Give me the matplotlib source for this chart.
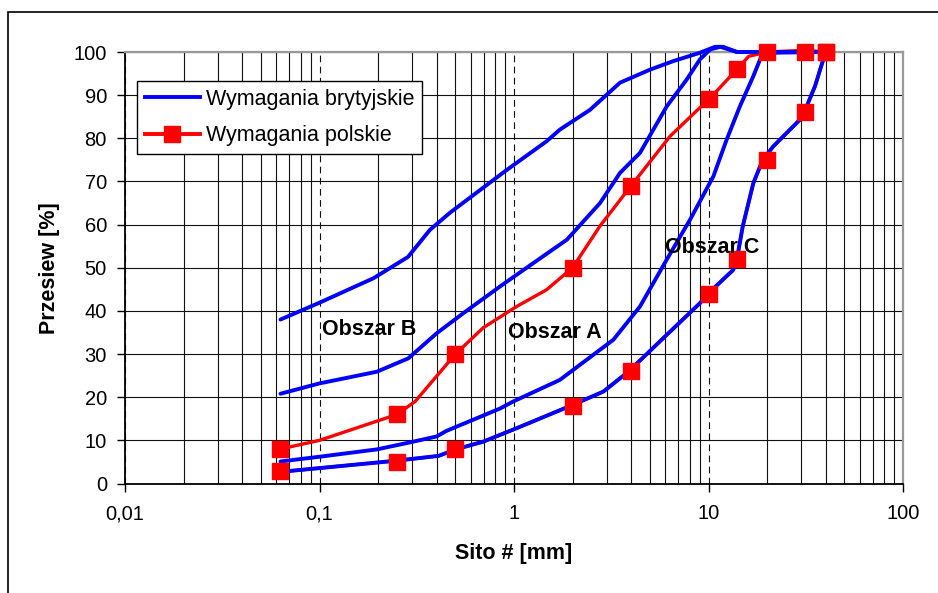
import matplotlib
matplotlib.use("Agg")
import matplotlib.pyplot as plt
from matplotlib.lines import Line2D
from matplotlib.patches import Rectangle
from matplotlib.ticker import LogLocator, NullFormatter

plt.rcParams['font.family'] = ['Liberation Sans', 'DejaVu Sans']

# Wymagania brytyjskie - granice obszarow
b1_x = [0.063, 0.1, 0.19, 0.285, 0.37, 0.47, 0.92, 1.47, 1.72, 2.46, 3.51, 5.0, 6.6, 9.0, 10.8, 11.9, 14, 20, 40]
b1_y = [38, 41.9, 47.6, 52.5, 58.8, 62.8, 72.7, 79.3, 82, 86.6, 92.9, 95.9, 97.9, 99.8, 101.2, 101.2, 100, 100, 100]

b2_x = [0.063, 0.1, 0.197, 0.286, 0.40, 0.55, 0.85, 1.12, 1.87, 2.77, 3.51, 4.44, 6.1, 7.72, 9.04, 10.2, 11.5, 14, 20, 40]
b2_y = [20.8, 23.2, 25.9, 29.0, 34.8, 39.5, 45.7, 49.5, 56.5, 65.0, 72.0, 76.6, 87.4, 93.6, 98.3, 100.6, 101.2, 100, 100, 100]

b3_x = [0.063, 0.1, 0.197, 0.29, 0.40, 0.45, 0.85, 0.99, 1.72, 3.24, 4.44, 6.1, 8.03, 10.6, 12.4, 14.5, 17.0, 19.0, 40]
b3_y = [5.1, 6.2, 7.9, 9.5, 10.9, 12.2, 17.4, 19.0, 24.0, 33.3, 41.0, 51.9, 61.1, 71.2, 79.7, 87.4, 94.4, 99.8, 100]

b4_x = [0.063, 0.25, 0.41, 0.5, 0.695, 1.03, 2.0, 2.88, 3.87, 5.86, 9.04, 10.0, 13.4, 14.0, 15.0, 17.0, 19.0, 21.5, 29.5, 31.5, 35.3, 40]
b4_y = [2.7, 5.3, 6.4, 7.9, 9.7, 12.8, 18.2, 21.3, 25.9, 33.7, 41.8, 44.1, 49.5, 52, 59.6, 69.6, 75, 78.1, 84.3, 86.7, 92.1, 100]

# Wymagania polskie - sita i granice
sita = [0.063, 0.25, 0.5, 2, 4, 10, 14, 20, 31.5, 40]
pl_gorna = [8, 16, 30, 50, 69, 89, 96, 100, 100, 100]
pl_dolna = [3, 5, 8, 18, 26, 44, 52, 75, 86, 100]

# przebieg czerwonej linii gornej (odczytany)
pl_linia_x = [0.063, 0.1, 0.25, 0.31, 0.5, 0.695, 1.03, 1.47, 2, 2.76, 4, 6.35, 10, 11, 14, 16.1, 20, 31.5, 40]
pl_linia_y = [8, 10, 16, 19, 30, 36.1, 41, 44.9, 50, 59.6, 69, 80.5, 89, 90.9, 96, 99, 100, 100.4, 100]

x_ticks = [0.01, 0.1, 1, 10, 100]
x_labels = ["0,01", "0,1", "1", "10", "100"]
y_ticks = list(range(0, 101, 10))

obszary = [("Obszar B", 0.103, 34.5), ("Obszar A", 0.93, 33.7), ("Obszar C", 5.97, 53.5)]

BLUE = "#0000ff"
RED = "#ff0000"

fig = plt.figure(figsize=(9.38, 5.93), dpi=100)
ax = fig.add_axes([125 / 938, 1 - 483.5 / 593, 778 / 938, 431.5 / 593])

ax.set_xscale("log")
ax.set_xlim(0.01, 100)
ax.set_ylim(0, 100)

# siatka
ax.xaxis.set_minor_locator(LogLocator(base=10, subs=range(2, 10)))
ax.xaxis.set_minor_formatter(NullFormatter())
ax.grid(which="minor", axis="x", color="#111111", lw=0.8)
ax.grid(which="major", axis="x", color="#111111", lw=0.8, ls=(0, (6, 4)))
ax.grid(which="major", axis="y", color="#111111", lw=0.8)
ax.set_axisbelow(True)

# linie
ax.plot(b4_x, b4_y, color=RED, lw=2.4, zorder=3)
ax.plot(pl_linia_x, pl_linia_y, color=RED, lw=2.4, zorder=3, clip_on=False)
for bx, by in [(b1_x, b1_y), (b2_x, b2_y), (b3_x, b3_y), (b4_x, b4_y)]:
    ax.plot(bx, by, color=BLUE, lw=2.8, zorder=4, solid_joinstyle="round",
            solid_capstyle="round", clip_on=False)
ax.plot(sita, pl_gorna, ls="none", marker="s", ms=11, color=RED, zorder=5, clip_on=False)
ax.plot(sita, pl_dolna, ls="none", marker="s", ms=11, color=RED, zorder=5, clip_on=False)

for txt, x, y in obszary:
    ax.text(x, y, txt, fontsize=15.5, fontweight="bold", ha="left", va="baseline", zorder=6)

ax.set_xticks(x_ticks, x_labels)
ax.set_yticks(y_ticks)
ax.tick_params(axis="both", which="major", direction="out", length=6, width=1, labelsize=14.5)
ax.tick_params(axis="x", which="major", pad=9)
ax.tick_params(axis="y", which="major", pad=7)
ax.tick_params(axis="x", which="minor", length=0)

for s in ["top", "right"]:
    ax.spines[s].set_color("#999999")
    ax.spines[s].set_linewidth(1.6)
for s in ["left", "bottom"]:
    ax.spines[s].set_color("black")
    ax.spines[s].set_linewidth(1.3)

ax.set_xlabel("Sito # [mm]", fontsize=15.5, fontweight="bold", labelpad=14)
ax.set_ylabel("Przesiew [%]", fontsize=15.5, fontweight="bold", labelpad=10)

handles = [
    Line2D([], [], color=BLUE, lw=2.8),
    Line2D([], [], color=RED, lw=2.8, marker="s", ms=11),
]
leg = ax.legend(handles, ["Wymagania brytyjskie", "Wymagania polskie"],
                loc="upper left", bbox_to_anchor=(0.0154, 0.933), borderaxespad=0,
                fontsize=15.5, handlelength=2.55, handletextpad=0.28,
                labelspacing=0.72, borderpad=0.37, fancybox=False, framealpha=1,
                edgecolor="black")
leg.get_frame().set_linewidth(1.0)
leg.set_zorder(7)

# ramka wokol wykresu
fig.add_artist(Rectangle((8 / 938, -0.1), 1.2, 1 - 12 / 593 + 0.1,
                         transform=fig.transFigure, fill=False, ec="black", lw=1.2))

fig.savefig("out.png", dpi=100)
